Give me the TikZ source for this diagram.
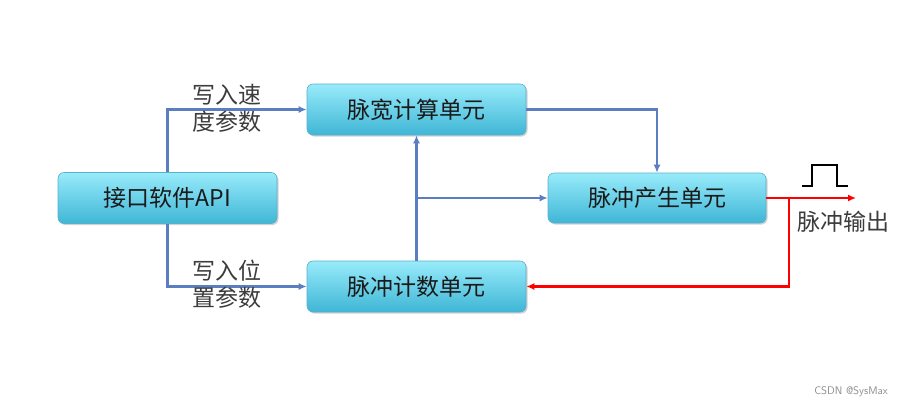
\documentclass[tikz,border=0pt]{standalone}
\usepackage{fontspec}
\newfontfamily\cjk{Noto Sans CJK SC}
\usetikzlibrary{arrows.meta,shadows}
\definecolor{lineblue}{HTML}{5A7EC0}
\definecolor{boxtop}{HTML}{98EBFA}
\definecolor{boxbot}{HTML}{3FB6D6}
\definecolor{boxdraw}{HTML}{58B0CC}
\definecolor{txt}{HTML}{1A1A1A}
\tikzset{
  unit/.style={rectangle, rounded corners=6pt, minimum width=219pt, minimum height=51pt,
    top color=boxtop, bottom color=boxbot, draw=boxdraw, line width=0.6pt,
    drop shadow={shadow xshift=1.5pt, shadow yshift=-1.5pt, opacity=0.35},
    font=\cjk\fontsize{23}{26}\selectfont, text=txt},
  bline/.style={draw=lineblue, line width=2.6pt},
  rline/.style={draw=red, line width=2.6pt},
  tip/.style={-{Latex[length=8pt,width=7pt]}},
  lbl/.style={font=\cjk\fontsize{23}{27}\selectfont, align=center, text=txt!85},
}
\begin{document}
\begin{tikzpicture}[x=1pt,y=-1pt]
\useasboundingbox (0,0) rectangle (910,408);
\fill[white] (0,0) rectangle (910,408);
\node[unit] (api) at (167.5,198) {接口软件API};
\node[unit] (pw) at (416.5,109.5) {脉宽计算单元};
\node[unit, minimum width=218pt, minimum height=50pt] (gen) at (657,198) {脉冲产生单元};
\node[unit] (pc) at (416.5,286.5) {脉冲计数单元};

\draw[bline,tip] (api.north) |- (pw.west);
\draw[bline,tip] (api.south) |- (pc.west);
\draw[bline,tip] (pc.north) -- (pw.south);
\coordinate (j1) at (pc.north |- gen.west);
\draw[bline,tip] (j1) -- (gen.west);
\draw[bline,tip] (pw.east) -| (gen.north);

\coordinate (out) at (856,198);
\coordinate (j2) at (789,198);
\draw[rline,tip] (gen.east) -- (out);
\draw[rline,tip] (j2) |- (pc.east);

\node[lbl] (l1) at (227,108) {写入速\\度参数};
\node[lbl] (l2) at (227,284) {写入位\\置参数};
\node[lbl] (l3) at (843,222) {脉冲输出};

\draw[line width=2.4pt, black] (802,186) -- (812,186) -- (812,165) -- (837,165) -- (837,186) -- (848,186);

\node[font=\sffamily\fontsize{11}{12}\selectfont, text=gray!90] (wm) at (851,392) {CSDN @SysMax};
\end{tikzpicture}
\end{document}
